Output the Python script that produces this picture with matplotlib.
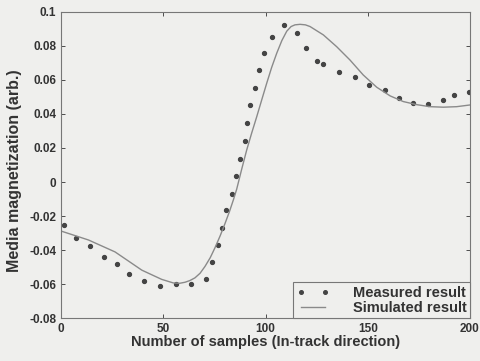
import matplotlib.pyplot as plt
from matplotlib.lines import Line2D

plt.rcParams['font.family'] = ['Liberation Sans', 'DejaVu Sans']

# Measured result (dots)
x_meas = [1.6, 7.3, 14.3, 20.9, 27.4, 33.4, 40.7, 48.6, 56.4, 63.6,
          70.8, 74.0, 76.6, 78.5, 80.8, 83.5, 85.6, 87.7, 89.8, 91.1,
          92.6, 94.7, 96.7, 99.3, 103.0, 109.0, 115.3, 119.8, 125.3, 128.3,
          135.8, 143.9, 150.8, 158.3, 165.3, 172.3, 179.3, 186.6, 192.2, 199.7]
y_meas = [-0.0252, -0.0327, -0.0376, -0.0442, -0.0482, -0.0542, -0.0580, -0.0607, -0.0597, -0.0599,
          -0.0568, -0.0468, -0.0368, -0.0270, -0.0164, -0.0070, 0.0037, 0.0137, 0.0241, 0.0346,
          0.0450, 0.0554, 0.0656, 0.0756, 0.0851, 0.0920, 0.0873, 0.0787, 0.0712, 0.0693,
          0.0646, 0.0615, 0.0571, 0.0542, 0.0495, 0.0464, 0.0456, 0.0483, 0.0513, 0.0530]

# Simulated result (line)
x_sim = [0.6, 13.4, 26.4, 39.5, 49.2, 54.9, 58.0, 60.6, 63.0, 65.5, 68.0,
         70.4, 73.0, 75.3, 77.8, 80.2, 82.4, 84.3, 85.9, 88.3, 90.8, 93.2,
         95.7, 98.2, 100.6, 103.0, 105.5, 108.0, 110.4, 112.5, 114.4, 116.9,
         119.5, 121.8, 128.3, 134.8, 141.3, 147.8, 154.4, 161.0, 167.4, 173.9,
         180.4, 187.0, 193.5, 200.0]
y_sim = [-0.029, -0.034, -0.041, -0.0517, -0.0571, -0.0592, -0.0594, -0.0588, -0.0578, -0.0562, -0.0535,
         -0.0495, -0.0443, -0.0385, -0.0316, -0.0243, -0.0172, -0.0104, -0.0042, 0.0073, 0.0188, 0.0286,
         0.0383, 0.0484, 0.0580, 0.0672, 0.0756, 0.0830, 0.0885, 0.0912, 0.0922, 0.0925,
         0.0922, 0.0912, 0.0863, 0.0794, 0.0716, 0.0628, 0.0556, 0.0505, 0.0472, 0.0454,
         0.0442, 0.0439, 0.0442, 0.0452]

xticks = [0, 50, 100, 150, 200]
yticks = [-0.08, -0.06, -0.04, -0.02, 0, 0.02, 0.04, 0.06, 0.08, 0.1]
ytick_labels = ['-0.08', '-0.06', '-0.04', '-0.02', '0', '0.02', '0.04', '0.06', '0.08', '0.1']

bg = '#efefed'
ink = '#333333'

fig = plt.figure(figsize=(4.81, 3.61), dpi=100, facecolor=bg)
ax = fig.add_axes([0.127, 0.118, 0.85, 0.85], facecolor=bg)

ax.plot(x_meas, y_meas, linestyle='none', marker='o', markersize=2.8,
        color='#444444')
ax.plot(x_sim, y_sim, color='#8a8a8a', linewidth=1.0)

ax.set_xlim(0, 200)
ax.set_ylim(-0.08, 0.1)
ax.set_xticks(xticks)
ax.set_yticks(yticks)
ax.set_yticklabels(ytick_labels)
ax.tick_params(direction='in', top=True, right=True, labelsize=8.5,
               colors=ink, length=3, width=0.6)
for lab in ax.get_xticklabels() + ax.get_yticklabels():
    lab.set_fontweight('bold')
for s in ax.spines.values():
    s.set_color('#777777')
    s.set_linewidth(0.8)

ax.set_xlabel('Number of samples (In-track direction)', fontsize=10.5,
              fontweight='bold', color=ink, labelpad=0)
ax.set_ylabel('Media magnetization (arb.)', fontsize=11.5, fontweight='bold',
              color=ink, labelpad=3)
ax.yaxis.set_label_coords(-0.095, 0.48)

handles = [Line2D([], [], linestyle='none', marker='o', markersize=2.6, color='#444444'),
           Line2D([], [], color='#8a8a8a', linewidth=1.0)]
leg = ax.legend(handles, ['Measured result', 'Simulated result'], loc='lower right',
                prop={'size': 10.5, 'weight': 'bold'}, numpoints=2, handlelength=2.2,
                fancybox=False, borderaxespad=0, framealpha=1, facecolor=bg,
                edgecolor='#777777', borderpad=0.25, labelspacing=0.05,
                handletextpad=1.6)
leg.get_frame().set_linewidth(0.8)
for t in leg.get_texts():
    t.set_color(ink)

fig.savefig('out.png', dpi=100, facecolor=bg)
